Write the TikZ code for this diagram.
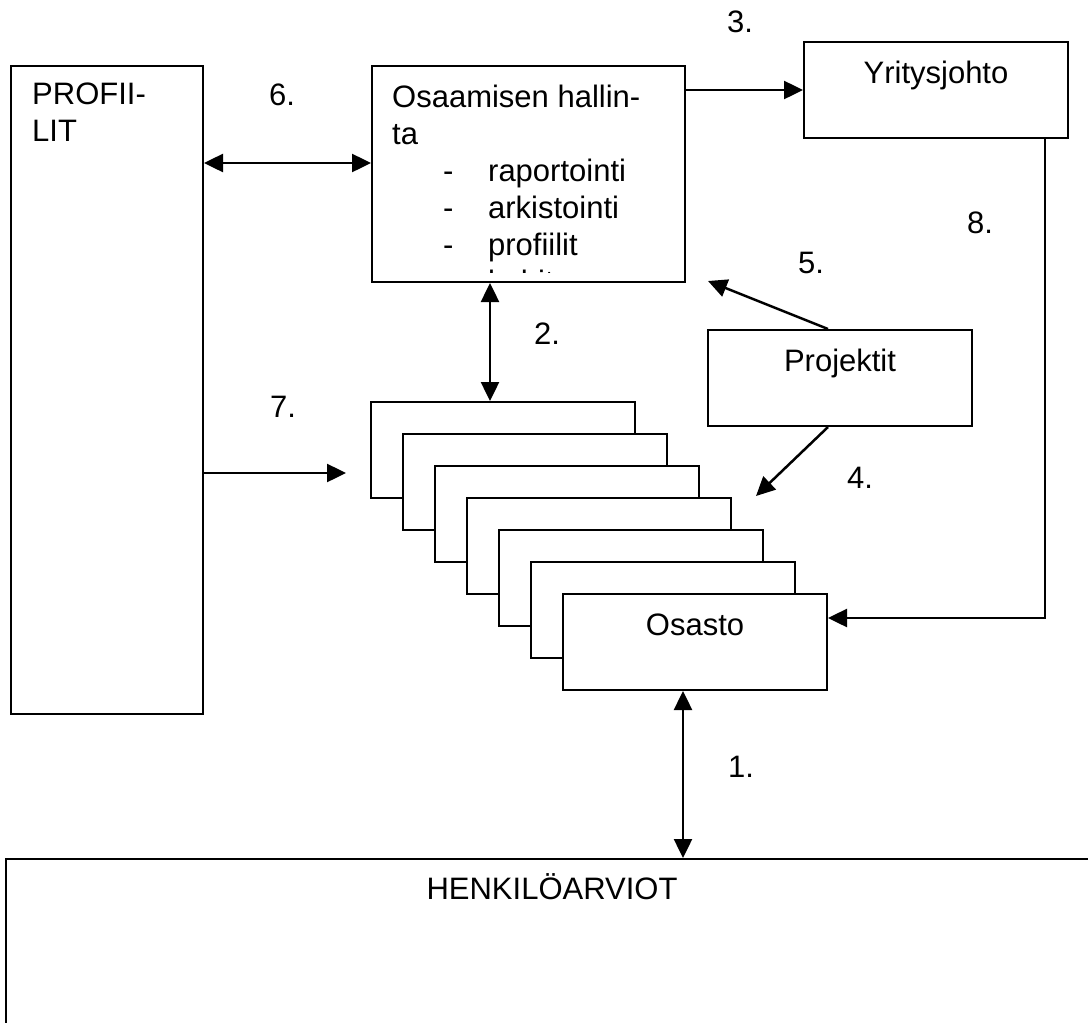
\documentclass[tikz,border=0pt]{standalone}
\usepackage{fontspec}
\setmainfont{Liberation Sans}
\usepackage{tikz}
\usetikzlibrary{positioning, arrows.meta}

\newcommand{\kohta}[1]{\hspace*{51pt}\makebox[45pt][l]{-}#1}

\tikzset{
  kehys/.style={draw, line width=2pt, inner sep=0pt, anchor=north west},
  laatikko/.style={kehys, fill=white, minimum width=264pt, inner ysep=19pt,
    text height=22pt, text depth=36pt, font=\fontsize{31}{37}\selectfont},
  teksti/.style={inner sep=0pt, anchor=north west, align=left,
    font=\fontsize{31}{37}\selectfont},
  nro/.style={inner sep=0pt, anchor=base west, font=\fontsize{31}{37}\selectfont},
  yksi/.style={line width=2.5pt, -{Triangle[length=19pt,width=18pt]}},
  kaksi/.style={line width=2.5pt, {Triangle[length=19pt,width=18pt]}-{Triangle[length=19pt,width=18pt]}},
}

\begin{document}
\begin{tikzpicture}[x=1pt, y=-1pt]
\useasboundingbox (0,0) rectangle (1088,1023);
\clip (0,0) rectangle (1088,1023);

% laatikot
\node[kehys, minimum width=192pt, minimum height=648pt] (profiilit) at (10,65) {};
\node[teksti] (profiilitteksti) at ([shift={(22pt,-18pt)}]profiilit.north west) {PROFII-\\LIT};

\node[kehys, minimum width=313pt, minimum height=216pt] (osaaminen) at (371,65) {};
\begin{scope}
\clip (osaaminen.north west) rectangle ([yshift=11pt]osaaminen.south east);
\node[teksti] (osaaminenteksti) at ([shift={(21pt,-20pt)}]osaaminen.north west)
  {Osaamisen hallin-\\ta\\\kohta{raportointi}\\\kohta{arkistointi}\\\kohta{profiilit}\\\kohta{kehitys}};
\end{scope}

\node[laatikko] (yritys) at (803,41) {Yritysjohto};
\node[laatikko] (projektit) at (707,329) {Projektit};

\foreach \i in {1,...,6}
  \node[laatikko] (pino\i) at ({370+32*(\i-1)},{401+32*(\i-1)}) {};
\node[laatikko] (osasto) at (562,593) {Osasto};

\node[kehys, minimum width=1092pt, inner ysep=18pt, text height=22pt, text depth=142pt,
  font=\fontsize{31}{37}\selectfont] (henkilo) at (5,858) {HENKILÖARVIOT};

% nuolet
\coordinate (v6) at ([yshift=11pt]osaaminen.west);
\draw[kaksi] (profiilit.east |- v6) -- (v6);
\draw[yksi] (osaaminen.east |- yritys.west) -- (yritys.west);
\draw[yksi] ([xshift=-24pt]yritys.south east) |- ([yshift=24pt]osasto.east);
\coordinate (k5) at (708,281);
\draw[yksi] ([xshift=-12pt]projektit.north) -- (k5);
\coordinate (k4) at (756,496);
\draw[yksi] ([xshift=-12pt]projektit.south) -- (k4);
\coordinate (v2) at ([xshift=120pt]pino1.north west);
\draw[kaksi] (v2) -- (v2 |- osaaminen.south);
\coordinate (k7) at (346,473);
\draw[yksi] (profiilit.east |- k7) -- (k7);
\coordinate (v1) at ([xshift=121pt]osasto.south west);
\draw[kaksi] (v1) -- (v1 |- henkilo.north);

% numerot
\node[nro] (n1) at (728,777) {1.};
\node[nro] (n2) at (534,344) {2.};
\node[nro] (n3) at (727,32) {3.};
\node[nro] (n4) at (847,488) {4.};
\node[nro] (n5) at (798,273) {5.};
\node[nro] (n6) at (269,105) {6.};
\node[nro] (n7) at (270,417) {7.};
\node[nro] (n8) at (967,233) {8.};
\end{tikzpicture}
\end{document}
